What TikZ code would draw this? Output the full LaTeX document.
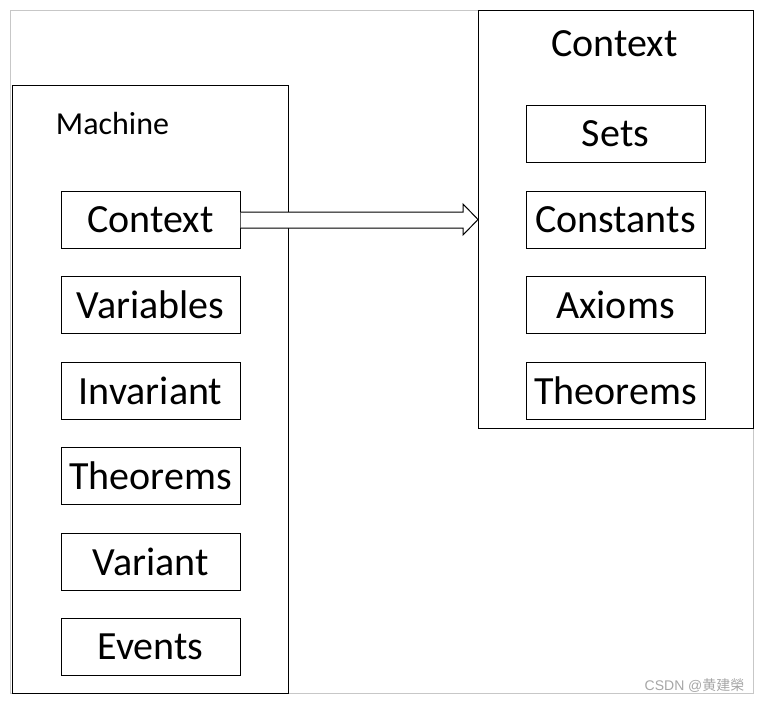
\documentclass[tikz,border=0pt]{standalone}
\usepackage{fontspec}
\setmainfont{Carlito}
\newfontfamily\cjkfont{Noto Sans CJK SC}
\newfontfamily\wmfont{Liberation Sans}
\usetikzlibrary{shapes.arrows}
\begin{document}
\begin{tikzpicture}[x=1pt,y=-1pt,
  item/.style={draw=black, line width=1pt, fill=white, minimum width=179pt, minimum height=57pt, inner sep=0pt, font=\fontsize{40}{44}\selectfont},
  outer/.style={draw=black, line width=1pt},
  frame/.style={draw=black!22, line width=1pt}]
\useasboundingbox (0,0) rectangle (764,702);
\draw[frame] (10,10) rectangle (753,693);
% Machine box
\draw[outer] (12,85) rectangle (288,693);
\node[anchor=base, font=\fontsize{32}{36}\selectfont] (mlabel) at (112.5,134) {Machine};
\node[item] (mctx) at (150.5,219.5) {Context};
\node[item] (mvar) at (150.5,304.5) {Variables};
\node[item] (minv) at (150.5,390.5) {Invariant};
\node[item] (mthm) at (150.5,475.5) {Theorems};
\node[item] (mvnt) at (150.5,561.5) {Variant};
\node[item] (mevt) at (150.5,646.5) {Events};
% Context box
\draw[outer] (478,10) rectangle (753,428);
\node[anchor=base, font=\fontsize{40}{44}\selectfont] (clabel) at (614.5,56) {Context};
\node[item] (csets) at (615.5,133.5) {Sets};
\node[item] (ccon) at (615.5,219.5) {Constants};
\node[item] (cax) at (615.5,304.5) {Axioms};
\node[item] (cthm) at (615.5,390.5) {Theorems};
\coordinate (ctxin) at (478,219.5);
% block arrow
\draw[line width=1pt, fill=white, line join=miter]
  (mctx.east |- 0,212) -- (463,212) -- (463,204) -- (ctxin) -- (463,235) -- (463,228) -- (mctx.east |- 0,228);
% watermark
\node[anchor=base east, text=black!35, font=\fontsize{14}{16}\selectfont\wmfont] (wm) at (748,690) {CSDN @{\cjkfont 黄建榮}};
\end{tikzpicture}
\end{document}
